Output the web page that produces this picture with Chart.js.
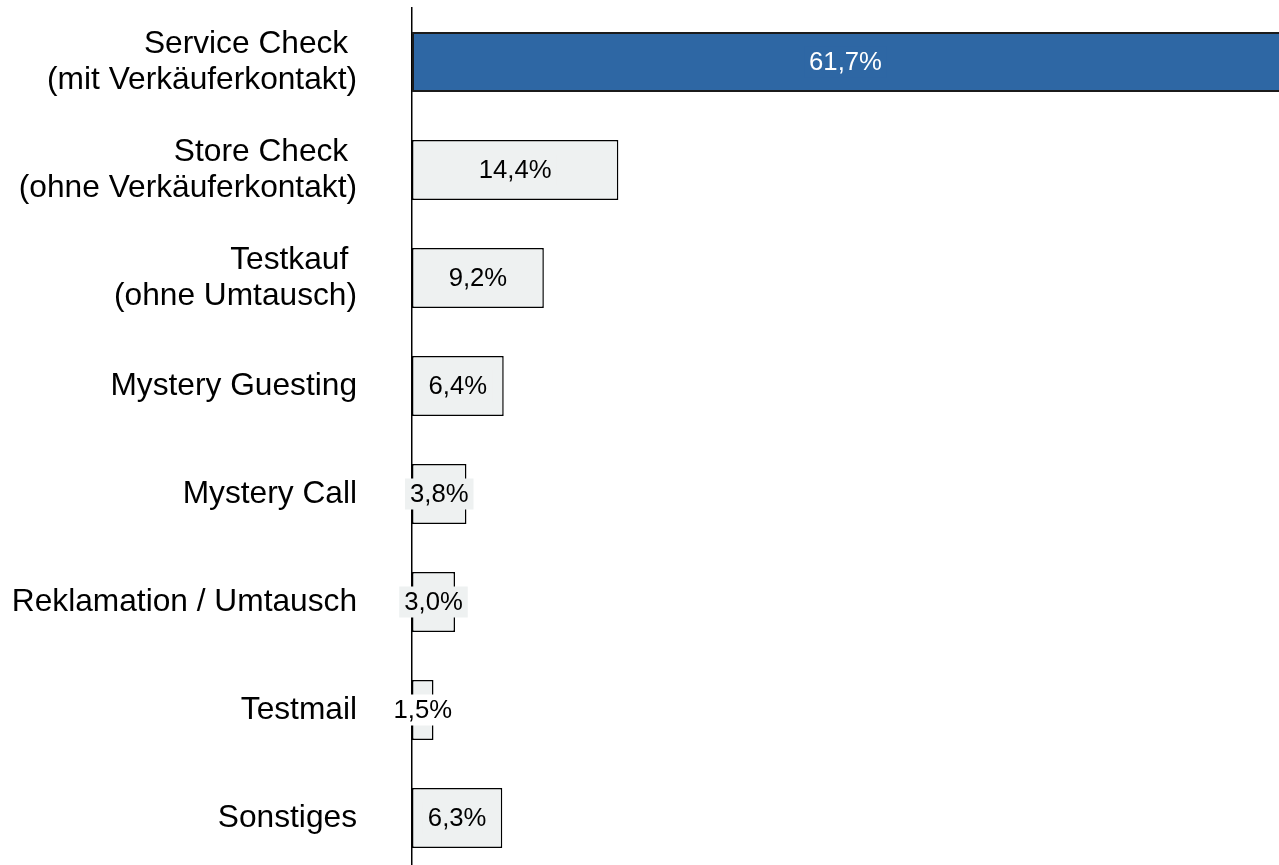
<!DOCTYPE html>
<html>
<head>
<meta charset="utf-8">
<script src="https://cdn.jsdelivr.net/npm/chart.js@4/dist/chart.umd.min.js"></script>
<style>
  html, body { margin: 0; padding: 0; background: #ffffff; overflow: hidden; }
  #wrap { width: 1279px; height: 865px; overflow: hidden; }
</style>
</head>
<body>
<div id="wrap"><canvas id="chart" width="1279" height="872"></canvas></div>
<script>
// Kategorien und Werte (Anteile in %)
var categories = [
    ['Service Check ', '(mit Verkäuferkontakt)'],
    ['Store Check ', '(ohne Verkäuferkontakt)'],
    ['Testkauf ', '(ohne Umtausch)'],
    'Mystery Guesting',
    'Mystery Call',
    'Reklamation / Umtausch',
    'Testmail',
    'Sonstiges'
];
var shares = [61.7, 14.4, 9.2, 6.4, 3.8, 3.0, 1.5, 6.3];
var valueLabels = ['61,7%', '14,4%', '9,2%', '6,4%', '3,8%', '3,0%', '1,5%', '6,3%'];

var barColors = ['#2e67a4', '#eef1f1', '#eef1f1', '#eef1f1', '#eef1f1', '#eef1f1', '#eef1f1', '#eef1f1'];
var borderColors = ['#1b1b1b', '#000000', '#000000', '#000000', '#000000', '#000000', '#000000', '#000000'];
var borderWidths = [2, 1.5, 1.5, 1.5, 1.5, 1.5, 1.5, 1.5];
var labelColors = ['#ffffff', '#000000', '#000000', '#000000', '#000000', '#000000', '#000000', '#000000'];
var labelBackgrounds = ['#2e67a4', '#eef1f1', '#eef1f1', '#eef1f1', '#eef1f1', '#eef1f1', '#ffffff', '#eef1f1'];

// Wertbeschriftung mittig auf dem Balken, mit Hintergrund
var valueLabelPlugin = {
    id: 'valueLabels',
    afterDatasetsDraw: function(chart) {
        var ctx = chart.ctx;
        var meta = chart.getDatasetMeta(0);
        ctx.save();
        ctx.font = '25.7px "Liberation Sans", Arial, sans-serif';
        ctx.textAlign = 'center';
        ctx.textBaseline = 'middle';
        meta.data.forEach(function(bar, i) {
            var right = Math.min(bar.x, chart.chartArea.right);
            var cx = (right + bar.base) / 2;
            var cy = bar.y;
            var w = ctx.measureText(valueLabels[i]).width + 10;
            var h = 31;
            ctx.fillStyle = labelBackgrounds[i];
            ctx.fillRect(cx - w / 2, cy - h / 2, w, h);
            ctx.fillStyle = labelColors[i];
            ctx.fillText(valueLabels[i], cx, cy + 1);
        });
        ctx.restore();
    }
};

new Chart(document.getElementById('chart'), {
    type: 'bar',
    data: {
        labels: categories,
        datasets: [{
            data: shares,
            backgroundColor: barColors,
            borderColor: borderColors,
            borderWidth: borderWidths,
            borderSkipped: false,
            categoryPercentage: 1,
            barPercentage: 0.556
        }]
    },
    options: {
        indexAxis: 'y',
        responsive: false,
        animation: false,
        layout: { padding: { top: 8, bottom: 0, left: 0, right: 0 } },
        plugins: {
            legend: { display: false },
            tooltip: { enabled: false }
        },
        scales: {
            x: {
                display: false,
                min: 0,
                max: 60.5
            },
            y: {
                grid: { display: false, drawTicks: false },
                border: { display: true, color: '#000000', width: 1.5 },
                afterFit: function(scale) {
                    scale.width = 412;
                    scale.paddingTop = 0;
                    scale.paddingBottom = 0;
                },
                ticks: {
                    color: '#000000',
                    padding: 55,
                    font: { family: '"Liberation Sans", Arial, sans-serif', size: 31.7, lineHeight: 1.15 }
                }
            }
        }
    },
    plugins: [valueLabelPlugin]
});
</script>
</body>
</html>
